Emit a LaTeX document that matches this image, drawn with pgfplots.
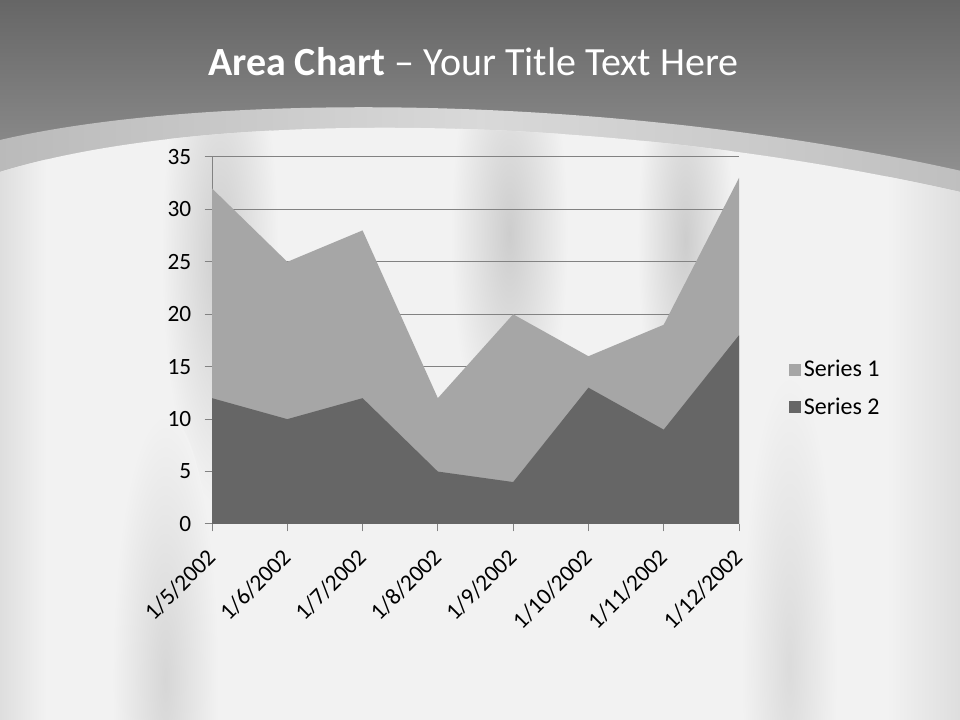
\documentclass[border=0pt]{standalone}
\usepackage{pgfplots}
\pgfplotsset{compat=1.18}
\usepackage{fontspec}
\setmainfont{Carlito}
\definecolor{sone}{HTML}{A6A6A6}
\definecolor{stwo}{HTML}{666666}
\definecolor{gridc}{HTML}{828282}
\definecolor{paper}{HTML}{F2F2F2}
\definecolor{streak}{HTML}{CDCDCD}
\begin{document}
\begin{tikzpicture}[x=1pt,y=1pt]
% slide background
\shade[top color=black!60, bottom color=black!40] (0,380) rectangle (720,540);
\shade[left color=black!27, right color=black!25, middle color=black!15]
  (0,435) .. controls (150,470) and (450,472) .. (720,412) -- (720,380) -- (0,380) -- cycle;
\path[fill=paper] (0,411) .. controls (150,457.5) and (450,457.5) .. (720,396) -- (720,0) -- (0,0) -- cycle;
\begin{scope}
  \clip (0,411) .. controls (150,457.5) and (450,457.5) .. (720,396) -- (720,0) -- (0,0) -- cycle;
  \shade[left color=black!13, right color=paper] (0,0) rectangle (35,540);
  \shade[left color=paper, right color=black!13] (665,0) rectangle (720,540);
  \shade[inner color=streak, outer color=paper] (165,350) ellipse (44 and 190);
  \shade[inner color=streak, outer color=paper] (382,365) ellipse (44 and 170);
  \shade[inner color=streak, outer color=paper] (514,360) ellipse (36 and 170);
  \shade[inner color=black!16, outer color=paper] (124,30) ellipse (40 and 200);
  \shade[inner color=black!14, outer color=paper] (592,40) ellipse (36 and 220);
\end{scope}
\node[text=white, font=\fontsize{30}{36}\selectfont] at (355,493.5)
  {\textbf{Area Chart} – Your Title Text Here};
\begin{axis}[
    at={(159pt,147pt)}, anchor=south west,
    scale only axis, width=395.25pt, height=275.25pt,
    xmin=0, xmax=7, ymin=0, ymax=35,
    xtick={0,...,7},
    xticklabels={1/5/2002, 1/6/2002, 1/7/2002, 1/8/2002, 1/9/2002, 1/10/2002, 1/11/2002, 1/12/2002},
    ytick={0,5,...,35},
    axis lines*=left,
    axis line style={draw=gridc, line width=0.75pt},
    ymajorgrids, grid style={draw=gridc, line width=0.75pt},
    tick align=outside, major tick length=5.5pt,
    tick style={draw=gridc, line width=0.75pt},
    /pgf/number format/assume math mode=true,
    ticklabel style={font=\fontsize{17.5}{21}\selectfont, text=black},
    y tick label style={xshift=-6.5pt},
    x tick label style={xshift=-5pt, yshift=-7pt, rotate=45, anchor=north east},
    legend style={at={(1.087,0.37)}, anchor=west, draw=none, fill=none,
      font=\fontsize{18}{21}\selectfont, row sep=10pt},
    legend cell align=left,
    legend image code/.code={\fill[#1] (-5pt,-4.5pt) rectangle (4pt,4.5pt);},
]
\addplot[fill=sone, draw=none] coordinates {
  (0,32) (1,25) (2,28) (3,12) (4,20) (5,16) (6,19) (7,33)
} \closedcycle;
\addplot[fill=stwo, draw=none] coordinates {
  (0,12) (1,10) (2,12) (3,5) (4,4) (5,13) (6,9) (7,18)
} \closedcycle;
\legend{Series 1, Series 2}
\end{axis}
\pgfresetboundingbox
\useasboundingbox (0,0) rectangle (720,540);
\end{tikzpicture}
\end{document}
